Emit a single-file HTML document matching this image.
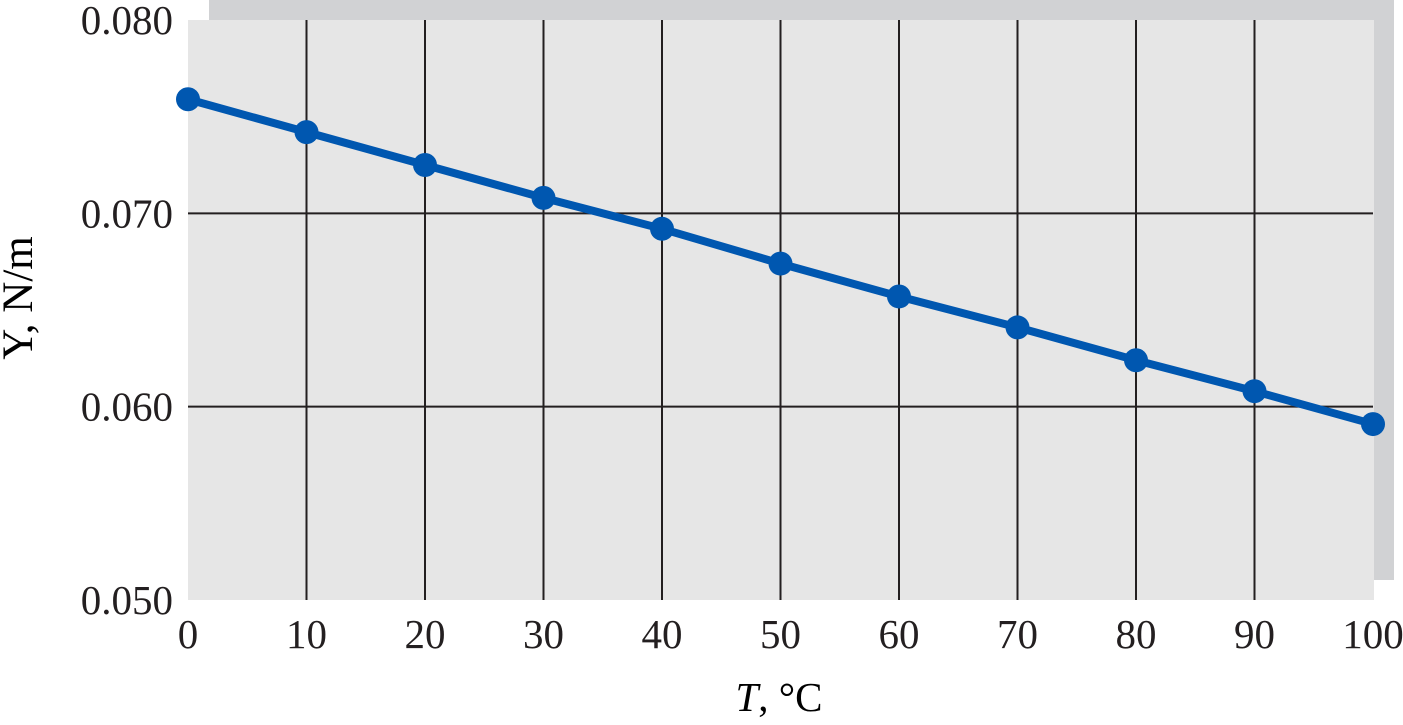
<!DOCTYPE html>
<html><head><meta charset="utf-8"><style>
body{margin:0;background:#fff;}
svg{display:block;font-family:"Liberation Serif",serif;}
</style></head><body>
<svg width="1403" height="725">
<rect x="209" y="0" width="1185" height="580" fill="#d1d2d4"/>
<rect x="188" y="20" width="1186" height="580" fill="#e6e6e6"/>
<g id="grid"></g>
<g id="ticks"></g>
<g id="series"></g>
<text x="32" y="298" font-size="43" text-anchor="middle" transform="rotate(-90 32 298)">Υ, N/m</text>
<text x="779" y="711" font-size="41" text-anchor="middle"><tspan font-style="italic">T</tspan>, °C</text>
</svg>
<script>
const temps=[0,10,20,30,40,50,60,70,80,90,100];
const tension=[0.0759,0.0742,0.0725,0.0708,0.0692,0.0674,0.0657,0.0641,0.0624,0.0608,0.0591];
const xTicks=[0,10,20,30,40,50,60,70,80,90,100];
const yTicks=[0.050,0.060,0.070,0.080];
const NS="http://www.w3.org/2000/svg";
const X0=188,X1=1373,Y0=600,Y1=20;
const xs=v=>X0+(v-0)/(100-0)*(X1-X0);
const ys=v=>Y0-(v-0.05)/(0.08-0.05)*(Y0-Y1);
function mk(t,a,p){const e=document.createElementNS(NS,t);for(const k in a)e.setAttribute(k,a[k]);p.appendChild(e);return e;}
const grid=document.getElementById('grid'),ticks=document.getElementById('ticks'),series=document.getElementById('series');
xTicks.forEach(v=>{
 if(v>0&&v<100){const l=mk('line',{x1:xs(v),x2:xs(v),y1:Y1,y2:Y0,stroke:'#231f20','stroke-width':2},grid);
 
 }
 const t=mk('text',{x:xs(v),y:648,'font-size':41,'text-anchor':'middle',fill:'#231f20'},ticks);t.textContent=v;
 
 
});
yTicks.forEach(v=>{
 if(v>0.0505&&v<0.0795){const l=mk('line',{x1:X0,x2:X1,y1:ys(v),y2:ys(v),stroke:'#231f20','stroke-width':2},grid);
 
 }
 const t=mk('text',{x:173,y:ys(v)+14,'font-size':41,'text-anchor':'end',fill:'#231f20'},ticks);t.textContent=v.toFixed(3);
 
 
});
const pl=mk('polyline',{points:temps.map((t,i)=>xs(t)+','+ys(tension[i])).join(' '),fill:'none',stroke:'#0057b0','stroke-width':8},series);


temps.forEach((t,i)=>{const c=mk('circle',{cx:xs(t),cy:ys(tension[i]),r:12,fill:'#0057b0'},series);
 
 });
</script>
</body></html>
